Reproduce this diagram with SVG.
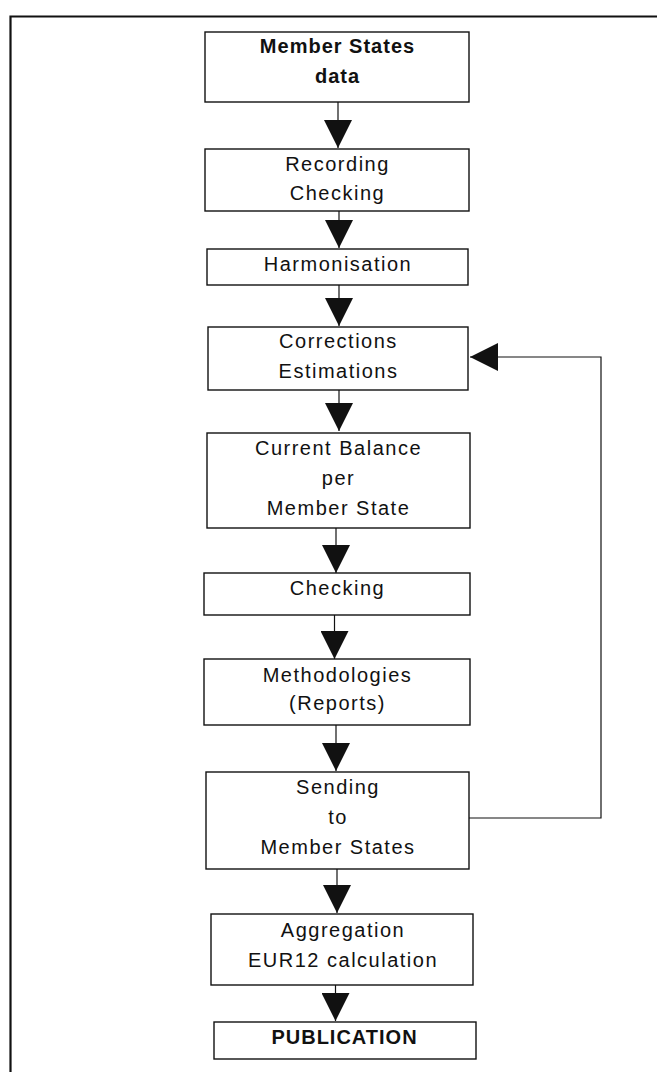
<svg xmlns="http://www.w3.org/2000/svg" width="657" height="1072" viewBox="0 0 657 1072">
<style>
.box{fill:#fff;stroke:#111;stroke-width:1.4}
.t{font-family:"Liberation Sans",Arial,sans-serif;font-size:20px;letter-spacing:1.5px;text-anchor:middle;fill:#111}
.b{font-weight:bold;letter-spacing:1px}
.c{fill:none;stroke:#111;stroke-width:1.2}
.frame{fill:none;stroke:#111;stroke-width:2.2}
</style>
<defs>
<marker id="ah" markerUnits="userSpaceOnUse" markerWidth="28" markerHeight="28" viewBox="0 0 28 28" refX="28" refY="14" orient="auto">
<path d="M0,0 L28,14 L0,28 Z" fill="#111"/>
</marker>
</defs>
<rect width="657" height="1072" fill="#fff"/>
<path class="frame" d="M10.5,1072 L10.5,16.5 L657,16.5"/>
<g id="connectors">
<line class="c" x1="338" y1="102" x2="338" y2="148" marker-end="url(#ah)"/>
<line class="c" x1="339" y1="211" x2="339" y2="248" marker-end="url(#ah)"/>
<line class="c" x1="339" y1="285" x2="339" y2="326" marker-end="url(#ah)"/>
<line class="c" x1="339" y1="390" x2="339" y2="431" marker-end="url(#ah)"/>
<line class="c" x1="336" y1="528" x2="336" y2="573" marker-end="url(#ah)"/>
<line class="c" x1="334.5" y1="615" x2="334.5" y2="659" marker-end="url(#ah)"/>
<line class="c" x1="336" y1="725" x2="336" y2="771" marker-end="url(#ah)"/>
<line class="c" x1="337" y1="869" x2="337" y2="913" marker-end="url(#ah)"/>
<line class="c" x1="335.5" y1="985" x2="335.5" y2="1021" marker-end="url(#ah)"/>
<path class="c" d="M469,818 L601,818 L601,357 L470,357" marker-end="url(#ah)"/>
</g>
<g id="n1"><rect class="box" x="205" y="32" width="264" height="70"/>
<text class="t b" x="337.5" y="53">Member States</text><text class="t b" x="337.5" y="83">data</text></g>
<g id="n2"><rect class="box" x="205" y="149" width="264" height="62"/>
<text class="t" x="337.5" y="171">Recording</text><text class="t" x="337.5" y="200">Checking</text></g>
<g id="n3"><rect class="box" x="207" y="249" width="261" height="36"/>
<text class="t" x="338" y="271">Harmonisation</text></g>
<g id="n4"><rect class="box" x="208" y="327" width="260" height="63"/>
<text class="t" x="338.5" y="348">Corrections</text><text class="t" x="338.5" y="378">Estimations</text></g>
<g id="n5"><rect class="box" x="207" y="433" width="263" height="95"/>
<text class="t" x="338.5" y="455">Current Balance</text><text class="t" x="338.5" y="485">per</text><text class="t" x="338.5" y="515">Member State</text></g>
<g id="n6"><rect class="box" x="204" y="573" width="266" height="42"/>
<text class="t" x="337.5" y="595">Checking</text></g>
<g id="n7"><rect class="box" x="204" y="659" width="266" height="66"/>
<text class="t" x="337.5" y="682">Methodologies</text><text class="t" x="337.5" y="710">(Reports)</text></g>
<g id="n8"><rect class="box" x="206" y="772" width="263" height="97"/>
<text class="t" x="338" y="794">Sending</text><text class="t" x="338" y="824">to</text><text class="t" x="338" y="854">Member States</text></g>
<g id="n9"><rect class="box" x="211" y="914" width="262" height="71"/>
<text class="t" x="343" y="937">Aggregation</text><text class="t" x="343" y="967">EUR12 calculation</text></g>
<g id="n10"><rect class="box" x="214" y="1022" width="262" height="37"/>
<text class="t b" x="344.5" y="1044">PUBLICATION</text></g>
</svg>
